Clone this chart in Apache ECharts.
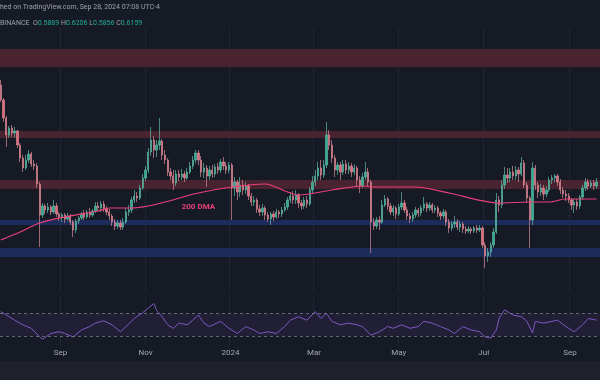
<!DOCTYPE html>
<html><head><meta charset="utf-8">
<script src="https://cdn.jsdelivr.net/npm/echarts@6/dist/echarts.min.js"></script>
<style>html,body{margin:0;padding:0;background:#161a25;}#c{width:600px;height:380px;}</style>
</head><body><div id="c"></div>
<script>
// ---- data ----
const startDate = '2023-07-20';
const dayCount = 431;       // daily categories
const candleStep = 2;       // one candle every 2 days
const ohlc = [ // [open, close, low, high]
[0.8375,0.80,0.795,0.85],[0.80,0.755,0.745,0.805],[0.755,0.7125,0.6825,0.76],[0.7125,0.73,0.705,0.735],[0.73,0.7175,0.7075,0.7375],
[0.7175,0.7225,0.705,0.7325],[0.7225,0.6875,0.68,0.725],[0.6875,0.655,0.645,0.6925],[0.655,0.63,0.62,0.6625],[0.63,0.65,0.625,0.6625],
[0.65,0.665,0.6425,0.675],[0.665,0.64,0.6325,0.67],[0.64,0.635,0.625,0.65],[0.635,0.59,0.58,0.6425],[0.59,0.5125,0.4325,0.595],
[0.5125,0.535,0.505,0.5425],[0.535,0.525,0.515,0.54],[0.525,0.5325,0.5175,0.5425],[0.5325,0.52,0.5125,0.5375],[0.52,0.535,0.515,0.55],
[0.535,0.515,0.5075,0.5425],[0.515,0.505,0.4975,0.52],[0.505,0.5125,0.495,0.5175],[0.5125,0.5025,0.4925,0.5175],[0.5025,0.51,0.4975,0.5175],
[0.51,0.495,0.4875,0.515],[0.495,0.475,0.4575,0.50],[0.475,0.4975,0.4675,0.5025],[0.4975,0.505,0.49,0.51],[0.505,0.515,0.50,0.52],
[0.515,0.5075,0.50,0.525],[0.5075,0.52,0.5025,0.525],[0.52,0.5125,0.505,0.53],[0.5125,0.5225,0.5075,0.5275],[0.5225,0.535,0.5175,0.545],
[0.535,0.53,0.5225,0.545],[0.53,0.54,0.52,0.5475],[0.54,0.5275,0.52,0.5475],[0.5275,0.52,0.5125,0.535],[0.52,0.51,0.50,0.5275],
[0.51,0.495,0.485,0.515],[0.495,0.485,0.475,0.5025],[0.485,0.4925,0.4775,0.50],[0.4925,0.4825,0.475,0.50],[0.4825,0.495,0.475,0.505],
[0.495,0.52,0.49,0.53],[0.52,0.525,0.51,0.5375],[0.525,0.55,0.5175,0.5575],[0.55,0.56,0.5425,0.575],[0.56,0.555,0.545,0.57],
[0.555,0.58,0.55,0.5875],[0.58,0.605,0.575,0.615],[0.605,0.625,0.5975,0.635],[0.625,0.67,0.6175,0.68],[0.67,0.70,0.66,0.7325],
[0.70,0.675,0.655,0.71],[0.675,0.6875,0.6575,0.70],[0.6875,0.6975,0.675,0.755],[0.6975,0.6625,0.65,0.7025],[0.6625,0.65,0.64,0.675],
[0.65,0.62,0.61,0.655],[0.62,0.61,0.60,0.63],[0.61,0.5925,0.575,0.625],[0.5925,0.615,0.585,0.625],[0.615,0.6075,0.5975,0.625],
[0.6075,0.615,0.60,0.6275],[0.615,0.605,0.595,0.6225],[0.605,0.62,0.60,0.63],[0.62,0.635,0.615,0.645],[0.635,0.65,0.6275,0.66],
[0.65,0.6675,0.6425,0.675],[0.6675,0.65,0.6375,0.675],[0.65,0.62,0.6075,0.66],[0.62,0.63,0.605,0.6425],[0.63,0.61,0.5825,0.6375],
[0.61,0.625,0.60,0.635],[0.625,0.615,0.605,0.6375],[0.615,0.6325,0.6075,0.64],[0.6325,0.625,0.615,0.6425],[0.625,0.645,0.6175,0.6525],
[0.645,0.635,0.625,0.6575],[0.635,0.625,0.615,0.645],[0.625,0.6375,0.6175,0.645],[0.6375,0.58,0.50,0.6425],[0.58,0.595,0.56,0.6075],
[0.595,0.57,0.55,0.60],[0.57,0.5875,0.5575,0.6075],[0.5875,0.575,0.5625,0.60],[0.575,0.585,0.565,0.595],[0.585,0.56,0.55,0.59],
[0.56,0.545,0.535,0.5675],[0.545,0.55,0.535,0.56],[0.55,0.5275,0.5175,0.555],[0.5275,0.52,0.51,0.5375],[0.52,0.53,0.51,0.54],
[0.53,0.5125,0.50,0.535],[0.5125,0.5025,0.495,0.52],[0.5025,0.515,0.4875,0.52],[0.515,0.5075,0.4975,0.5225],[0.5075,0.52,0.5025,0.5275],
[0.52,0.515,0.505,0.525],[0.515,0.525,0.5075,0.5325],[0.525,0.5325,0.52,0.5425],[0.5325,0.55,0.525,0.5575],[0.55,0.56,0.5425,0.57],
[0.56,0.55,0.54,0.5725],[0.55,0.5625,0.54,0.575],[0.5625,0.5425,0.53,0.5675],[0.5425,0.535,0.525,0.55],[0.535,0.55,0.5275,0.5575],
[0.55,0.54,0.53,0.56],[0.54,0.575,0.535,0.5825],[0.575,0.595,0.5675,0.61],[0.595,0.61,0.585,0.625],[0.61,0.63,0.60,0.645],
[0.63,0.6125,0.60,0.65],[0.6125,0.6375,0.605,0.65],[0.6375,0.7125,0.63,0.745],[0.7125,0.6875,0.675,0.725],[0.6875,0.655,0.6425,0.70],
[0.655,0.625,0.6075,0.6625],[0.625,0.6375,0.6125,0.645],[0.6375,0.62,0.60,0.645],[0.62,0.64,0.6125,0.65],[0.64,0.625,0.615,0.65],
[0.625,0.635,0.615,0.645],[0.635,0.62,0.6075,0.6425],[0.62,0.63,0.6125,0.64],[0.63,0.60,0.585,0.635],[0.60,0.585,0.5675,0.61],
[0.585,0.6075,0.58,0.6175],[0.6075,0.62,0.60,0.645],[0.62,0.595,0.5825,0.63],[0.595,0.495,0.4175,0.60],[0.495,0.485,0.475,0.505],
[0.485,0.50,0.4775,0.5075],[0.50,0.495,0.475,0.51],[0.495,0.5375,0.49,0.55],[0.5375,0.5525,0.5325,0.5625],[0.5525,0.535,0.525,0.5575],
[0.535,0.52,0.5125,0.5425],[0.52,0.53,0.51,0.5375],[0.53,0.515,0.5025,0.535],[0.515,0.5325,0.51,0.54],[0.5325,0.5425,0.525,0.57],
[0.5425,0.525,0.5175,0.55],[0.525,0.51,0.50,0.5325],[0.51,0.5025,0.4925,0.5175],[0.5025,0.5125,0.495,0.52],[0.5125,0.525,0.505,0.5325],
[0.525,0.5175,0.5075,0.53],[0.5175,0.53,0.51,0.5375],[0.53,0.54,0.5225,0.5575],[0.54,0.53,0.52,0.545],[0.53,0.5375,0.5225,0.545],
[0.5375,0.525,0.5175,0.5425],[0.525,0.53,0.5175,0.5375],[0.53,0.5175,0.5075,0.535],[0.5175,0.51,0.50,0.5225],[0.51,0.52,0.5025,0.5275],
[0.52,0.495,0.485,0.525],[0.495,0.48,0.4675,0.5025],[0.48,0.49,0.4725,0.4975],[0.49,0.495,0.48,0.51],[0.495,0.4825,0.475,0.5025],
[0.4825,0.49,0.47,0.4975],[0.49,0.4775,0.4675,0.495],[0.4775,0.4725,0.465,0.485],[0.4725,0.4775,0.4675,0.485],[0.4775,0.4725,0.465,0.4825],
[0.4725,0.48,0.4675,0.485],[0.48,0.475,0.4675,0.4875],[0.475,0.48,0.47,0.4875],[0.48,0.4375,0.43,0.485],[0.4375,0.41,0.38,0.445],
[0.41,0.42,0.395,0.43],[0.42,0.4375,0.4075,0.445],[0.4375,0.47,0.43,0.48],[0.47,0.55,0.465,0.5675],[0.55,0.5375,0.52,0.56],
[0.5375,0.5875,0.53,0.60],[0.5875,0.6125,0.5775,0.6325],[0.6125,0.605,0.5925,0.63],[0.605,0.62,0.595,0.63],[0.62,0.61,0.60,0.635],
[0.61,0.625,0.60,0.635],[0.625,0.615,0.595,0.6325],[0.615,0.6425,0.61,0.6575],[0.6425,0.5875,0.58,0.65],[0.5875,0.555,0.5425,0.595],
[0.555,0.50,0.43,0.56],[0.50,0.63,0.4875,0.645],[0.63,0.5875,0.575,0.6375],[0.5875,0.57,0.555,0.595],[0.57,0.58,0.56,0.59],
[0.58,0.565,0.55,0.5875],[0.565,0.575,0.5575,0.585],[0.575,0.60,0.57,0.6075],[0.60,0.605,0.59,0.6125],[0.605,0.61,0.595,0.615],
[0.61,0.595,0.585,0.615],[0.595,0.575,0.565,0.6025],[0.575,0.565,0.555,0.5825],[0.565,0.56,0.5475,0.575],[0.56,0.55,0.5425,0.5675],
[0.55,0.5375,0.525,0.555],[0.5375,0.545,0.5175,0.5525],[0.545,0.535,0.525,0.5525],[0.535,0.5575,0.5275,0.5625],[0.5575,0.58,0.55,0.5875],
[0.58,0.595,0.5725,0.605],[0.595,0.585,0.575,0.6025],[0.585,0.5925,0.58,0.60],[0.5925,0.585,0.575,0.60],[0.585,0.595,0.5775,0.605]
];
const dmaAt  = [0,7,14,23,35,39,47,53,59,71,83,95,103,107,119,130,135,143,149,161,179,190,197,203,214]; // candle index
const dmaVal = [0.45,0.47,0.4925,0.5075,0.5225,0.53,0.53,0.535,0.545,0.5675,0.5825,0.59,0.57,0.5625,0.575,0.585,0.5825,0.5825,0.5825,0.5675,0.5425,0.545,0.545,0.5525,0.5525];
const rsiAt  = [0,3,5,8,11,14,15,18,21,23,26,29,32,34,37,40,43,45,48,51,53,55,56,58,60,62,64,67,69,71,73,75,79,82,85,88,91,93,96,99,102,104,107,110,113,115,117,119,122,125,128,130,133,136,139,141,144,147,150,152,155,158,161,163,166,169,172,174,176,178,179,181,184,187,189,191,192,195,198,200,203,206,209,211,214];
const rsiVal = [73,64,58,50,44,29,25,35,38,35,29,41,47,53,57,50,38,47,61,71,79,87,75,64,50,44,53,50,58,67,53,47,56,44,35,47,41,35,38,35,47,58,64,58,73,61,70,56,50,53,50,47,32,38,47,44,50,44,47,56,53,47,41,35,47,41,38,29,27,41,61,76,67,64,56,36,56,53,56,58,47,38,50,61,58];
const resistanceZones = [[0.8825,0.9275],[0.705,0.7225],[0.5775,0.60]];
const supportZones = [[0.4875,0.50],[0.4075,0.43]];
const rsiLevels = [70,30];
const tickDates  = ['2023-09-01','2023-11-01','2024-01-01','2024-03-01','2024-05-01','2024-07-01','2024-09-01'];
const tickLabels = ['Sep','Nov','2024','Mar','May','Jul','Sep'];

// ---- build ----
const t0 = Date.parse(startDate + 'T00:00:00Z');
const days = [];
for (let i = 0; i < dayCount; i++) days.push(new Date(t0 + i * 86400000).toISOString().slice(0, 10));
const candleData = days.map(() => ['-','-','-','-']);
ohlc.forEach((r, k) => { candleData[k * candleStep] = r; });
const dmaData = dmaAt.map((k, j) => [k * candleStep, dmaVal[j]]);
const rsiData = rsiAt.map((k, j) => [k * candleStep, rsiVal[j]]);
const isTick = (idx, val) => tickDates.indexOf(val) >= 0;

const FONT = 'Roboto';
const zoneAreas = resistanceZones.map(z => [{yAxis: z[0], itemStyle: {color: '#4a2331'}}, {yAxis: z[1]}])
  .concat(supportZones.map(z => [{yAxis: z[0], itemStyle: {color: '#1c2c5a'}}, {yAxis: z[1]}]));

const chart = echarts.init(document.getElementById('c'), null, {renderer: 'canvas'});
chart.setOption({
  backgroundColor: '#161a25',
  animation: false,
  grid: [
    {left: 0, right: 0, top: 28, height: 264},
    {left: 0, right: 0, top: 296, height: 49}
  ],
  xAxis: [
    {type: 'category', gridIndex: 0, data: days, boundaryGap: true,
      axisLine: {show: false}, axisTick: {show: false}, axisLabel: {show: false},
      splitLine: {show: true, interval: isTick, lineStyle: {color: '#222634', width: 1}}},
    {type: 'category', gridIndex: 1, data: days, boundaryGap: true,
      axisLine: {show: false}, axisTick: {show: false},
      axisLabel: {show: true, interval: isTick, margin: 4, fontFamily: FONT, fontSize: 8, color: '#a3a6af',
        formatter: v => { const i = tickDates.indexOf(v); return i >= 0 ? tickLabels[i] : ''; }},
      splitLine: {show: true, interval: isTick, lineStyle: {color: '#222634', width: 1}}}
  ],
  yAxis: [
    {type: 'value', gridIndex: 0, min: 0.32, max: 0.98, show: false, splitLine: {show: false}},
    {type: 'value', gridIndex: 1, min: 15, max: 100, show: false, splitLine: {show: false}}
  ],
  series: [
    {type: 'candlestick', xAxisIndex: 0, yAxisIndex: 0, data: candleData, barWidth: 1.8, z: 3,
      itemStyle: {color: '#32a98f', color0: '#e06a7c', borderColor: '#5fb7a3', borderColor0: '#d88a95', borderWidth: 0.7},
      markArea: {silent: true, data: zoneAreas}},
    {type: 'line', xAxisIndex: 0, yAxisIndex: 0, data: dmaData, showSymbol: false, smooth: 0.3, z: 4,
      lineStyle: {color: '#e8407a', width: 1.2},
      markPoint: {symbol: 'circle', symbolSize: 0, silent: true,
        data: [{coord: [142, 0.5325], label: {show: true, formatter: '200 DMA', color: '#e8407a',
          fontFamily: FONT, fontSize: 8, fontWeight: 'bold'}}]}},
    {type: 'line', xAxisIndex: 1, yAxisIndex: 1, data: rsiData, showSymbol: false, z: 4,
      lineStyle: {color: '#7e57c2', width: 1},
      markArea: {silent: true, itemStyle: {color: '#211f36'}, data: [[{yAxis: rsiLevels[1]}, {yAxis: rsiLevels[0]}]]},
      markLine: {silent: true, symbol: 'none', label: {show: false},
        lineStyle: {color: '#787b86', type: [3, 3], width: 0.8},
        data: rsiLevels.map(v => ({yAxis: v}))}}
  ],
  graphic: [
    {type: 'rect', left: 0, top: 361, shape: {width: 600, height: 19}, style: {fill: '#1e212b'}, z: 0},
    {type: 'text', left: 0, top: 4, z: 10, style: {text: 'hed on TradingView.com, Sep 28, 2024 07:08 UTC-4',
      fill: '#9ea1aa', font: '7px Roboto'}},
    {type: 'text', left: 0, top: 20, z: 10, style: {
      text: '{g|BINANCE  O}{v|0.5889}{g| H}{v|0.6206}{g| L}{v|0.5856}{g| C}{v|0.6159}',
      rich: {g: {fill: '#9ea1aa', font: '7px Roboto'}, v: {fill: '#22ab94', font: '7px Roboto'}}}}
  ]
});
</script></body></html>
